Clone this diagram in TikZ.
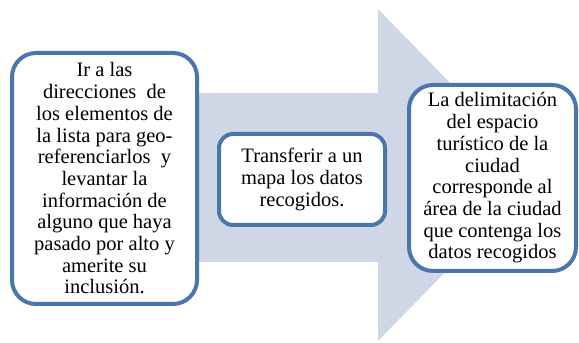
\documentclass[tikz,border=0pt]{standalone}
\usepackage{fontspec}
\setmainfont{Liberation Serif}
\definecolor{arrowfill}{HTML}{CFD7E7}
\definecolor{boxline}{HTML}{4A76AD}
\tikzset{
  stepbox/.style={draw=boxline, line width=4pt, fill=white, rounded corners=24pt,
    align=center, inner sep=0pt, font=\fontsize{20.5}{21.7}\selectfont},
}
\begin{document}
\begin{tikzpicture}[x=1pt,y=1pt]
\useasboundingbox (0,0) rectangle (579,343);
% big background arrow
\fill[arrowfill] (60,250) -- (378,250) -- (378,334) -- (540,168) -- (378,2) -- (378,81) -- (60,81) -- cycle;
% boxes
\node[stepbox, minimum width=185pt, minimum height=251pt] (a) at (104.5,164.5)
  {Ir a las\\direcciones\ \ de\\los elementos de\\la lista para geo-\\referenciarlos\ \ y\\levantar la\\información de\\alguno que haya\\pasado por alto y\\amerite su\\inclusión.};
\node[stepbox, minimum width=166pt, minimum height=91pt, rounded corners=14pt] (b) at (302,163.5)
  {Transferir a un\\mapa los datos\\recogidos.};
\node[stepbox, minimum width=167pt, minimum height=186pt] (c) at (492.5,165)
  {La delimitación\\del espacio\\turístico de la\\ciudad\\corresponde al\\área de la ciudad\\que contenga los\\datos recogidos};
\end{tikzpicture}
\end{document}
